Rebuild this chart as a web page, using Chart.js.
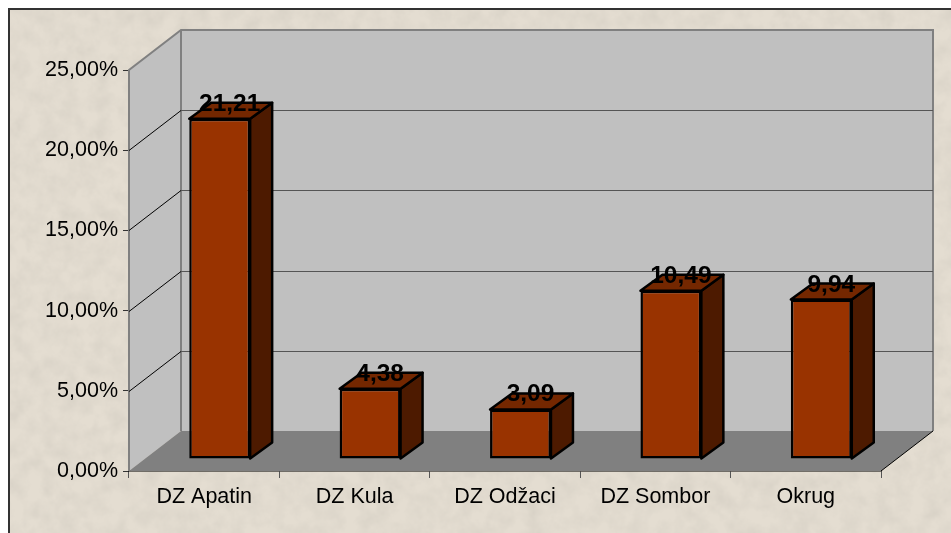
<!DOCTYPE html>
<html><head><meta charset="utf-8">
<style>
html,body{margin:0;padding:0;width:951px;height:533px;overflow:hidden;background:#fff}
#frame{position:absolute;left:8px;top:8px;width:943px;height:525px;border-left:2px solid #333;border-top:2px solid #333;box-sizing:border-box;background:#e4ddd1;
background-image:url("data:image/svg+xml;utf8,<svg xmlns='http://www.w3.org/2000/svg' width='943' height='525'><filter id='n' x='0' y='0' width='100%' height='100%'><feTurbulence type='fractalNoise' baseFrequency='0.06' numOctaves='4' seed='7'/><feColorMatrix values='0 0 0 0 0.55  0 0 0 0 0.52  0 0 0 0 0.46  0.4 0.4 0 0 -0.3'/></filter><rect width='943' height='525' filter='url(%23n)'/></svg>");}
canvas{position:absolute;left:0;top:0}
</style>
<script src="https://cdn.jsdelivr.net/npm/chart.js@4"></script>
</head><body><div id="frame"></div><div style="position:absolute;left:0;top:0;width:951px;height:533px"><canvas id="c" width="951" height="533"></canvas></div>
<script>
const categories = ['DZ Apatin','DZ Kula','DZ Odžaci','DZ Sombor','Okrug'];
const values = [21.21,4.38,3.09,10.49,9.94];
const valueLabels = ['21,21','4,38','3,09','10,49','9,94'];
const yTicks = [0,5,10,15,20,25];

const wallDX=52, wallDY=-40;    // depth of the box
const barShiftX=15.5, barShiftY=-12; // bar position within depth
const barDX=22, barDY=-16;      // bar's own depth

function poly(ctx,pts,fill,stroke,lw){
  ctx.beginPath();pts.forEach((p,i)=>i?ctx.lineTo(p[0],p[1]):ctx.moveTo(p[0],p[1]));ctx.closePath();
  if(fill){ctx.fillStyle=fill;ctx.fill();}
  if(stroke){ctx.strokeStyle=stroke;ctx.lineWidth=lw||1;ctx.lineJoin='round';ctx.stroke();}
}
const box3d={
  id:'box3d',
  beforeDatasetsDraw(chart){
    const {ctx,chartArea:a,scales:{y}}=chart;
    const l=a.left,r=a.right,t=a.top,b=a.bottom;
    ctx.save();
    poly(ctx,[[l+wallDX,t+wallDY],[r+wallDX,t+wallDY],[r+wallDX,b+wallDY],[l+wallDX,b+wallDY]],'#c0c0c0');
    poly(ctx,[[l,t],[l+wallDX,t+wallDY],[l+wallDX,b+wallDY],[l,b]],'#c0c0c0');
    poly(ctx,[[l,b],[l+wallDX,b+wallDY],[r+wallDX,b+wallDY],[r,b]],'#808080');
    // outlines of the walls
    ctx.strokeStyle='#808080';ctx.lineWidth=2;
    ctx.beginPath();ctx.moveTo(l,b);ctx.lineTo(l,t);ctx.lineTo(l+wallDX,t+wallDY);ctx.lineTo(r+wallDX,t+wallDY);ctx.lineTo(r+wallDX,b+wallDY);
    ctx.moveTo(l+wallDX,t+wallDY);ctx.lineTo(l+wallDX,b+wallDY);ctx.stroke();
    // gridlines on side wall and back wall
    yTicks.forEach(v=>{
      if(v===0||v===25)return;
      const py=Math.round(y.getPixelForValue(v))+.5;
      ctx.strokeStyle='#000';ctx.lineWidth=1;
      ctx.beginPath();ctx.moveTo(l,py);ctx.lineTo(l+wallDX,py+wallDY);ctx.stroke();
      ctx.strokeStyle='#555';
      ctx.beginPath();ctx.moveTo(l+wallDX,py+wallDY);ctx.lineTo(r+wallDX,py+wallDY);ctx.stroke();
    });
    // front-right floor edge
    ctx.strokeStyle='#000';ctx.lineWidth=1;
    ctx.beginPath();ctx.moveTo(r,b);ctx.lineTo(r+wallDX,b+wallDY);ctx.stroke();
    ctx.restore();
  },
  beforeDatasetDraw(chart){
    const {ctx}=chart;ctx.save();ctx.translate(barShiftX,barShiftY);
    chart.getDatasetMeta(0).data.forEach(el=>{
      const p=el.getProps(['x','y','base','width'],true);
      const L=p.x-p.width/2,R=p.x+p.width/2;
      poly(ctx,[[R,p.y],[R+barDX,p.y+barDY],[R+barDX,p.base+barDY],[R,p.base]],'#4d1a00','#000',2.5);
      poly(ctx,[[L,p.y],[L+barDX,p.y+barDY],[R+barDX,p.y+barDY],[R,p.y]],'#742700','#000',2.5);
    });
  },
  afterDatasetDraw(chart){chart.ctx.restore();},
  afterDatasetsDraw(chart){
    const {ctx}=chart;
    ctx.save();ctx.font='bold 24.5px "Liberation Sans"';ctx.fillStyle='#000';ctx.textAlign='center';ctx.textBaseline='alphabetic';
    chart.getDatasetMeta(0).data.forEach((el,i)=>{
      const p=el.getProps(['x','y'],true);
      ctx.fillText(valueLabels[i],p.x+barShiftX+barDX/2-1,p.y+barShiftY-8);
    });
    ctx.restore();
  }
};
Chart.defaults.animation=false;
new Chart(document.getElementById('c'),{
  type:'bar',
  data:{labels:categories,datasets:[{data:values,backgroundColor:'#993300',borderColor:'#000',borderWidth:2.5,borderSkipped:false,barPercentage:0.405,categoryPercentage:1}]},
  plugins:[box3d],
  options:{
    responsive:false,animation:false,clip:false,
    layout:{padding:{top:70,right:70,left:0,bottom:0}},
    plugins:{legend:{display:false},tooltip:{enabled:false}},
    scales:{
      x:{afterFit(s){s.height=62},
         grid:{drawOnChartArea:false,tickLength:7,color:'#555',offset:true},border:{color:'#000',width:1.5},
         ticks:{color:'#000',padding:6,maxRotation:0,font:{family:'"Liberation Sans"',size:21.5}}},
      y:{min:0,max:25,afterFit(s){s.width=129},
         afterBuildTicks(s){s.ticks=yTicks.map(v=>({value:v}))},
         grid:{drawOnChartArea:false,tickLength:6,color:'#333'},border:{display:false},
         ticks:{color:'#000',padding:5,font:{family:'"Liberation Sans"',size:21.5},callback:v=>v.toFixed(2).replace('.',',')+'%'}}
    }
  }
});
</script></body></html>
